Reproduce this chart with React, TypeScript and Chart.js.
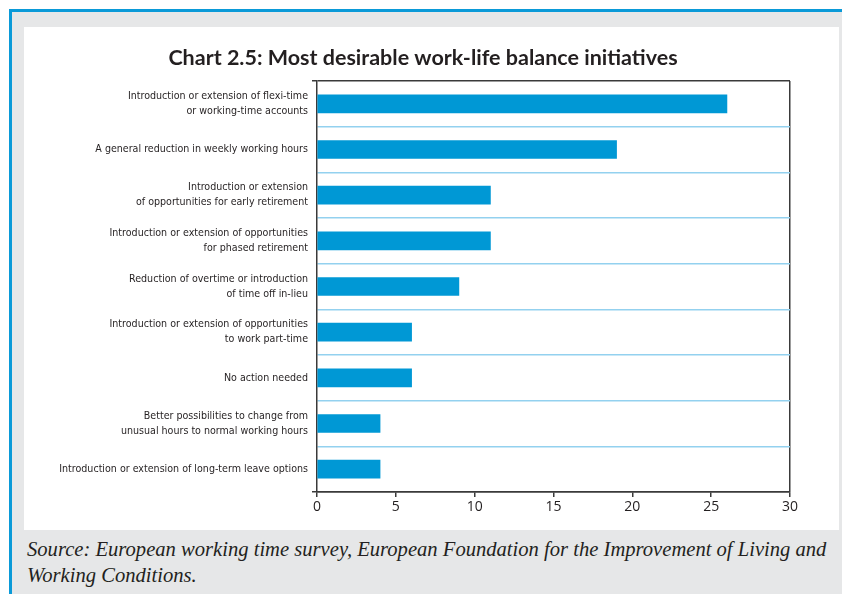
import React, { useEffect, useRef } from 'react';
import { Chart, registerables } from 'chart.js';

Chart.register(...registerables);

const titleText = 'Chart 2.5: Most desirable work-life balance initiatives';

const categories: (string | string[])[] = [
  ['Introduction or extension of flexi-time', 'or working-time accounts'],
  'A general reduction in weekly working hours',
  ['Introduction or extension', 'of opportunities for early retirement'],
  ['Introduction or extension of opportunities', 'for phased retirement'],
  ['Reduction of overtime or introduction', 'of time off in-lieu'],
  ['Introduction or extension of opportunities', 'to work part-time'],
  'No action needed',
  ['Better possibilities to change from', 'unusual hours to normal working hours'],
  'Introduction or extension of long-term leave options',
];

const values = [26, 19, 11, 11, 9, 6, 6, 4, 4];

const xMin = 0;
const xMax = 30;
const xStep = 5;

const sourceLines = [
  'Source: European working time survey, European Foundation for the Improvement of Living and',
  'Working Conditions.',
];

const DARK = '#3a3a3a';
const TEXT = '#231f20';
const GRID_BLUE = '#93d1ef';
const BAR_BLUE = '#0098d5';

export default function App() {
  const ref = useRef<HTMLCanvasElement | null>(null);

  useEffect(() => {
    if (!ref.current) return;
    const chart = new Chart(ref.current, {
      type: 'bar',
      data: {
        labels: categories,
        datasets: [
          {
            data: values,
            backgroundColor: BAR_BLUE,
            borderWidth: 0,
            barThickness: 18,
          },
        ],
      },
      options: {
        indexAxis: 'y',
        responsive: false,
        animation: false,
        devicePixelRatio: 1,
        layout: { padding: { left: 32, right: 49, top: 0, bottom: 0 } },
        plugins: {
          legend: { display: false },
          tooltip: { enabled: false },
          title: {
            display: true,
            text: titleText,
            color: TEXT,
            font: { family: 'Lato, "Open Sans", sans-serif', size: 21.5, weight: 'bold', lineHeight: 1.2 },
            padding: { top: 18, bottom: 10.2 },
          },
        },
        scales: {
          x: {
            type: 'linear',
            min: xMin,
            max: xMax,
            ticks: {
              stepSize: xStep,
              color: TEXT,
              font: { family: '"Open Sans", sans-serif', size: 14 },
              padding: 2,
            },
            grid: {
              color: (ctx: any) => (ctx.tick && ctx.tick.value === xMax ? DARK : 'rgba(0,0,0,0)'),
              tickColor: DARK,
              tickLength: 5,
              lineWidth: 1.5,
            },
            border: { color: DARK, width: 1.5 },
            afterFit: (scale: any) => {
              scale.height = 38;
            },
          },
          y: {
            type: 'category',
            ticks: {
              color: TEXT,
              font: { family: '"DejaVu Sans Condensed", "Liberation Sans Narrow", sans-serif', size: 10.6, lineHeight: 1.41 },
              padding: 4,
              autoSkip: false,
            },
            grid: {
              offset: true,
              color: (ctx: any) => (ctx.index === 0 || ctx.index === undefined ? DARK : GRID_BLUE),
              tickColor: (ctx: any) => (ctx.index === 0 || ctx.index === undefined ? DARK : 'rgba(0,0,0,0)'),
              tickLength: 5,
              lineWidth: 1.5,
            },
            border: { color: DARK, width: 1.5 },
            afterFit: (scale: any) => {
              scale.width = 261;
            },
          },
        },
      },
    });
    return () => chart.destroy();
  }, []);

  return (
    <div style={{ position: 'fixed', left: 0, top: 0, width: 842, height: 594, background: '#ffffff', overflow: 'hidden' }}>
      <div
        style={{
          position: 'absolute',
          left: 9,
          top: 9,
          width: 833,
          height: 585,
          boxSizing: 'border-box',
          borderTop: '3px solid #0a9ad8',
          borderLeft: '3px solid #0a9ad8',
          background: '#e6e7e8',
        }}
      />
      <div style={{ position: 'absolute', left: 24, top: 27, width: 815, height: 503, background: '#ffffff' }}>
        <canvas ref={ref} width={815} height={503} style={{ display: 'block' }} />
      </div>
      <div
        style={{
          position: 'absolute',
          left: 27,
          top: 536,
          fontFamily: '"Liberation Serif", serif',
          fontStyle: 'italic',
          fontSize: 20.6,
          lineHeight: '26px',
          color: TEXT,
          whiteSpace: 'nowrap',
        }}
      >
        {sourceLines[0]}
        <br />
        {sourceLines[1]}
      </div>
    </div>
  );
}
